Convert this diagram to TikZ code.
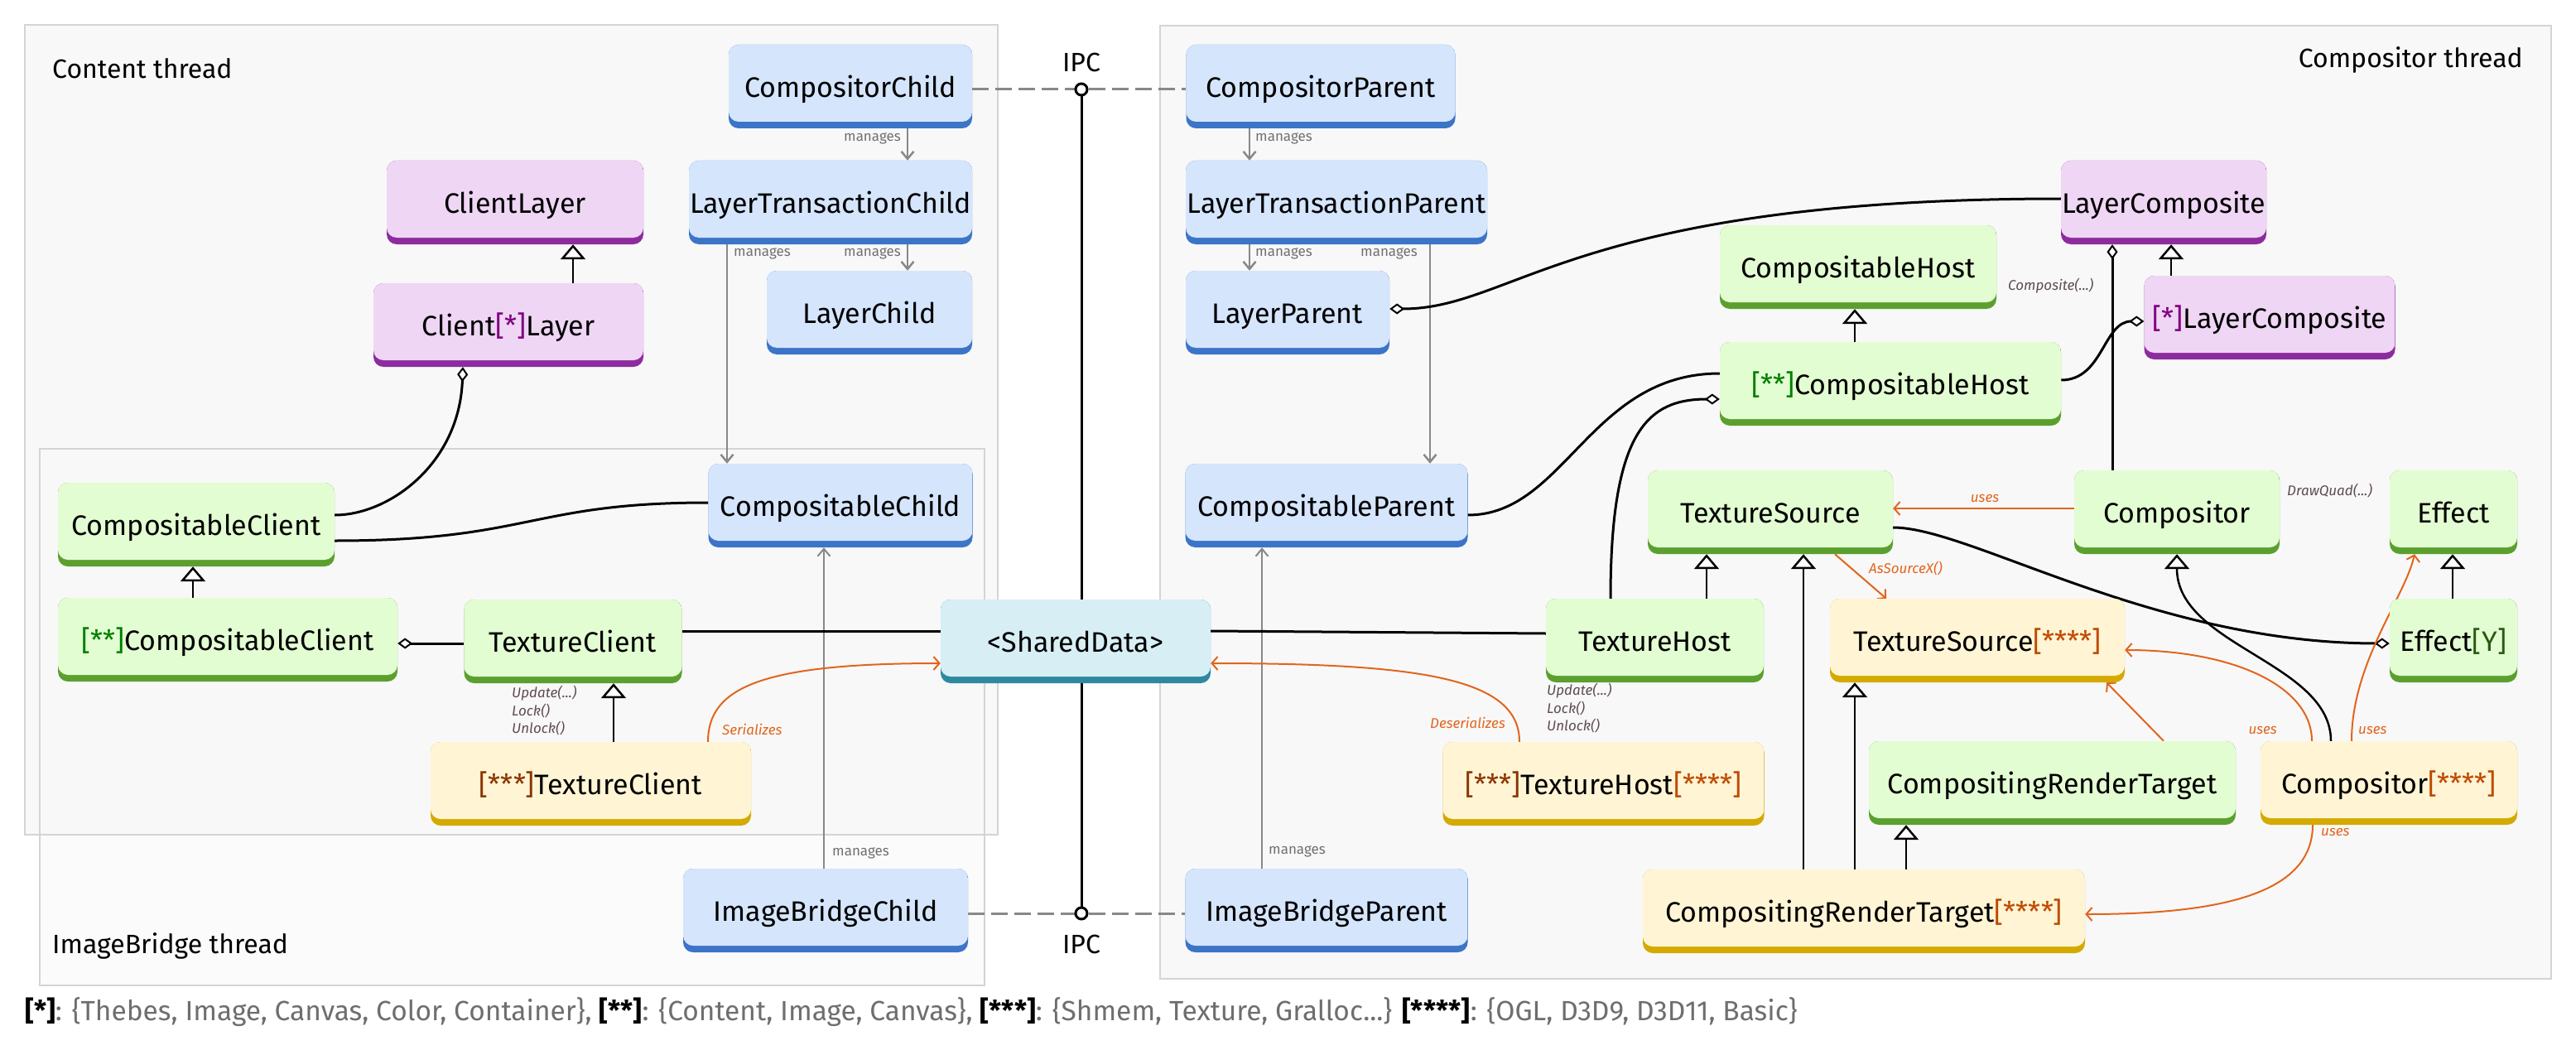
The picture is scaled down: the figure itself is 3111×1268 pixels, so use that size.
\documentclass[tikz,border=0pt]{standalone}
\usepackage{fontspec}
\setmainfont{Fira Sans}
\usetikzlibrary{arrows.meta,calc}
\definecolor{bluel}{HTML}{D5E5FC}\definecolor{blued}{HTML}{3C74C8}
\definecolor{purl}{HTML}{EFD6F4}\definecolor{purd}{HTML}{8D2C9E}
\definecolor{grnl}{HTML}{E3FDD3}\definecolor{grnd}{HTML}{5BA02F}
\definecolor{yell}{HTML}{FFF5D5}\definecolor{yeld}{HTML}{D4AA00}
\definecolor{cyal}{HTML}{D7EEF5}\definecolor{cyad}{HTML}{2E89A0}
\definecolor{framefill}{HTML}{F8F8F8}\definecolor{framefillb}{HTML}{FBFBFB}
\definecolor{frameline}{HTML}{D4D4D4}
\definecolor{mgray}{HTML}{888888}
\definecolor{mtext}{HTML}{707070}
\definecolor{orng}{HTML}{E2651C}
\definecolor{meth}{HTML}{5E4B56}
\definecolor{leggray}{HTML}{6E6E6E}
\definecolor{cstar}{HTML}{800080}
\definecolor{ctwostar}{HTML}{008000}
\definecolor{cthreestar}{HTML}{8B3500}
\definecolor{cfourstar}{HTML}{C04A00}
\definecolor{cyy}{HTML}{2A5A10}
\newcommand\mainsz{\fontsize{34}{40}\selectfont}
\newcommand\labsz{\fontsize{32}{38}\selectfont}
\newcommand\smallsz{\fontsize{17}{21.5}\selectfont}
\newcommand\legsz{\fontsize{33.5}{40}\selectfont}
\pgfdeclarelayer{bg}\pgfdeclarelayer{edges}\pgfsetlayers{bg,edges,main}
\tikzset{
  cls/.style 2 args={draw=none, fill=#2, rounded corners=12pt, minimum height=101pt,
    inner sep=0pt, text height=29pt, text depth=3pt, font=\mainsz,
    path picture={\fill[#1,rounded corners=12pt] (path picture bounding box.north west)
      rectangle ([yshift=8pt]path picture bounding box.south east);}},
  bluebox/.style={cls={bluel}{blued}},
  purbox/.style={cls={purl}{purd}},
  grnbox/.style={cls={grnl}{grnd}},
  yelbox/.style={cls={yell}{yeld}},
  cyabox/.style={cls={cyal}{cyad}},
  mgr/.style={draw=mgray, line width=2.5pt, -{Straight Barb[length=9pt,width=15pt]}},
  mgrthin/.style={mgr, line width=2pt},
  mlab/.style={font=\smallsz, text=mtext, inner sep=0pt},
  inh/.style={draw=black, line width=2.5pt, -{Triangle[length=18pt,width=30pt,fill=white]}},
  assoc/.style={draw=black, line width=3pt},
  aggs/.style={assoc, {Diamond[length=18pt,width=13pt,fill=white,line width=2pt]}-},
  agge/.style={assoc, -{Diamond[length=18pt,width=13pt,fill=white,line width=2pt]}},
  uses/.style={draw=orng, line width=2pt, -{Straight Barb[length=7pt,width=16pt]}},
  olab/.style={font=\smallsz\itshape, text=orng, inner sep=0pt},
  methlab/.style={font=\smallsz\itshape, text=meth, inner sep=0pt, align=left},
  framelab/.style={font=\labsz, inner sep=0pt},
  ipcdot/.style={circle, draw=black, line width=3pt, fill=white, minimum size=14pt, inner sep=0pt},
  ipcdash/.style={draw=mgray, line width=3pt, dash pattern=on 20pt off 8pt}
}
\begin{document}
\begin{tikzpicture}[x=1pt,y=-1pt]
\useasboundingbox (0,0) rectangle (3111,1268);
\begin{pgfonlayer}{bg}
  \fill[white] (0,0) rectangle (3111,1268);
  \fill[framefillb] (48,542) rectangle (1189,1190);
  \fill[framefill] (30,30) rectangle (1205,1008);
  \fill[framefill] (1401,31) rectangle (3081,1182);
  \draw[frameline, line width=2.5pt] (48,542) rectangle (1189,1190);
  \draw[frameline, line width=2.5pt] (30,30) rectangle (1205,1008);
  \draw[frameline, line width=2.5pt] (1401,31) rectangle (3081,1182);
\end{pgfonlayer}

\node[framelab, anchor=west] (lcontent) at (63,83) {Content thread};
\node[framelab, anchor=east] (lcomp) at (3047,72) {Compositor thread};
\node[framelab, anchor=west] (limg) at (63,1142) {ImageBridge thread};

% blue
\node[bluebox, minimum width=294pt] (cc) at (1027,104.5) {CompositorChild};
\node[bluebox, minimum width=342pt] (ltc) at (1003,244.5) {LayerTransactionChild};
\node[bluebox, minimum width=248pt] (lc) at (1050,377.5) {LayerChild};
\node[bluebox, minimum width=319pt] (cch) at (1015,610.5) {CompositableChild};
\node[bluebox, minimum width=344pt] (ibc) at (997,1099.5) {ImageBridgeChild};
\node[bluebox, minimum width=325pt] (cp) at (1595,104.5) {CompositorParent};
\node[bluebox, minimum width=364pt] (ltp) at (1614,244.5) {LayerTransactionParent};
\node[bluebox, minimum width=246pt] (lp) at (1555,377.5) {LayerParent};
\node[bluebox, minimum width=341pt] (cpa) at (1602,610.5) {CompositableParent};
\node[bluebox, minimum width=341pt] (ibp) at (1602,1099.5) {ImageBridgeParent};
% purple
\node[purbox, minimum width=310pt] (cl) at (622,244.5) {ClientLayer};
\node[purbox, minimum width=326pt] (csl) at (614,392.5) {Client{\color{cstar}[*]}Layer};
\node[purbox, minimum width=248pt] (lco) at (2613,244.5) {LayerComposite};
\node[purbox, minimum width=303pt] (slc) at (2741,383.5) {{\color{cstar}[*]}LayerComposite};
% green
\node[grnbox, minimum width=334pt] (ccl) at (237,633.5) {CompositableClient};
\node[grnbox, minimum width=410pt] (sccl) at (275,772.5) {{\color{ctwostar}[**]}CompositableClient};
\node[grnbox, minimum width=263pt] (tc) at (692,774.5) {TextureClient};
\node[grnbox, minimum width=334pt] (ch) at (2244,322.5) {CompositableHost};
\node[grnbox, minimum width=412pt] (sch) at (2283,463.5) {{\color{ctwostar}[**]}CompositableHost};
\node[grnbox, minimum width=296pt] (ts) at (2138,618.5) {TextureSource};
\node[grnbox, minimum width=248pt] (co) at (2629,618.5) {Compositor};
\node[grnbox, minimum width=154pt] (ef) at (2963,618.5) {Effect};
\node[grnbox, minimum width=263pt] (th) at (1998.5,773.5) {TextureHost};
\node[grnbox, minimum width=154pt] (efy) at (2963,773.5) {Effect{\color{cyy}[Y]}};
\node[grnbox, minimum width=443pt] (crt) at (2478.5,945.5) {CompositingRenderTarget};
% yellow
\node[yelbox, minimum width=387pt] (stc) at (713.5,946.5) {{\color{cthreestar}[***]}TextureClient};
\node[yelbox, minimum width=388pt] (sth) at (1936.5,946.5) {{\color{cthreestar}[***]}TextureHost{\color{cfourstar}[****]}};
\node[yelbox, minimum width=356pt] (ts4) at (2388,773.5) {TextureSource{\color{cfourstar}[****]}};
\node[yelbox, minimum width=310pt] (co4) at (2885,945.5) {Compositor{\color{cfourstar}[****]}};
\node[yelbox, minimum width=534pt] (crt4) at (2251,1100.5) {CompositingRenderTarget{\color{cfourstar}[****]}};
% cyan
\node[cyabox, minimum width=326pt] (sd) at (1299,774.5) {<SharedData>};

% IPC
\node[ipcdot] (ipc1) at (1306,108) {};
\node[ipcdot] (ipc2) at (1306,1103) {};
\node[framelab] (ipct) at (1306,75) {IPC};
\node[framelab] (ipcb) at (1306,1140) {IPC};

% labels
\node[mlab, anchor=east] (m1) at (1088,167) {manages};
\node[mlab, anchor=east] (m2) at (1088,306) {manages};
\node[mlab, anchor=west] (m3) at (886,306) {manages};
\node[mlab, anchor=west] (m4) at (1516,167) {manages};
\node[mlab, anchor=west] (m5) at (1516,306) {manages};
\node[mlab, anchor=east] (m6) at (1712,306) {manages};
\node[mlab, anchor=west] (m7) at (1005,1030) {manages};
\node[mlab, anchor=west] (m8) at (1532,1028) {manages};

\node[olab, anchor=west] (oser) at (872,881) {Serializes};
\node[olab, anchor=east] (odes) at (1818,873) {Deserializes};
\node[olab] (ouse1) at (2397,602) {uses};
\node[olab, anchor=west] (oasx) at (2257,687) {AsSourceX()};
\node[olab, anchor=east] (ouse2) at (2750,882) {uses};
\node[olab, anchor=west] (ouse3) at (2848,882) {uses};
\node[olab, anchor=west] (ouse4) at (2803,1005) {uses};

\node[methlab, anchor=north west] (tcm) at (618,828) {Update(...)\\Lock()\\Unlock()};
\node[methlab, anchor=north west] (thm) at (1868,825) {Update(...)\\Lock()\\Unlock()};
\node[methlab, anchor=west] (compm) at (2425,345) {Composite(...)};
\node[methlab, anchor=west] (drawm) at (2762,593) {DrawQuad(...)};

\node[anchor=west, font=\legsz, text=leggray, inner sep=0pt] (legend) at (30,1222)
  {\textbf{\color{black}[*]}: \{Thebes, Image, Canvas, Color, Container\}, \textbf{\color{black}[**]}: \{Content, Image, Canvas\}, \textbf{\color{black}[***]}: \{Shmem, Texture, Gralloc...\} \textbf{\color{black}[****]}: \{OGL, D3D9, D3D11, Basic\}};

\begin{pgfonlayer}{edges}
  % IPC
  \draw[line width=3pt] (ipc1.south) -- (ipc2.north);
  \draw[ipcdash] (cc.east |- ipc1.center) -- (ipc1.west);
  \draw[ipcdash] (ipc1.east) -- (cp.west |- ipc1.center);
  \draw[ipcdash] (ibc.east |- ipc2.center) -- (ipc2.west);
  \draw[ipcdash] (ipc2.east) -- (ibp.west |- ipc2.center);
  % manages
  \draw[mgr] (1096,0 |- cc.south) -- (1096,0 |- ltc.north);
  \draw[mgr] (1096,0 |- ltc.south) -- (1096,0 |- lc.north);
  \draw[mgr] (878,0 |- ltc.south) -- (878,0 |- cch.north);
  \draw[mgr] (1509,0 |- cp.south) -- (1509,0 |- ltp.north);
  \draw[mgr] (1509,0 |- ltp.south) -- (1509,0 |- lp.north);
  \draw[mgr] (1727,0 |- ltp.south) -- (1727,0 |- cpa.north);
  \draw[mgrthin] (995,0 |- ibc.north) -- (995,0 |- cch.south);
  \draw[mgrthin] (1524,0 |- ibp.north) -- (1524,0 |- cpa.south);
  % inheritance
  \draw[inh] (692,0 |- csl.north) -- (692,0 |- cl.south);
  \draw[inh] (233,0 |- sccl.north) -- (233,0 |- ccl.south);
  \draw[inh] (741,0 |- stc.north) -- (741,0 |- tc.south);
  \draw[inh] (2240,0 |- sch.north) -- (2240,0 |- ch.south);
  \draw[inh] (2622,0 |- slc.north) -- (2622,0 |- lco.south);
  \draw[inh] (2061,0 |- th.north) -- (2061,0 |- ts.south);
  \draw[inh] (2178,0 |- crt4.north) -- (2178,0 |- ts.south);
  \draw[inh] (2240,0 |- crt4.north) -- (2240,0 |- ts4.south);
  \draw[inh] (2302,0 |- crt4.north) -- (2302,0 |- crt.south);
  \draw[inh] (2962,0 |- efy.north) -- (2962,0 |- ef.south);
  \draw[inh] (2815,0 |- co4.north) .. controls (2815,800) and (2629,780) .. (2629,0 |- co.south);
  % associations / aggregations
  \draw[aggs] (559,0 |- csl.south) .. controls (555,560) and (470,622) .. (ccl.east |- 0,622);
  \draw[assoc] (ccl.east |- 0,653) .. controls (640,653) and (640,607) .. (cch.west |- 0,607);
  \draw[aggs] (sccl.east |- 0,777) -- (tc.west |- 0,777);
  \draw[assoc] (tc.east |- 0,762) -- (sd.west |- 0,762);
  \draw[assoc] (sd.east |- 0,762) -- (th.west |- 0,765);
  \draw[aggs] (lp.east |- 0,373) .. controls (1830,373) and (1900,240) .. (lco.west |- 0,240);
  \draw[assoc] (cpa.east |- 0,622) .. controls (1890,622) and (1920,451) .. (sch.west |- 0,451);
  \draw[aggs] (sch.west |- 0,482) .. controls (1990,482) and (1945,520) .. (1945,0 |- th.north);
  \draw[agge] (sch.east |- 0,459) .. controls (2540,459) and (2540,388) .. (slc.west |- 0,388);
  \draw[aggs] (2551,0 |- lco.south) -- (2551,0 |- co.north);
  \draw[agge] (ts.east |- 0,637) .. controls (2380,637) and (2600,777) .. (efy.west |- 0,777);
  % uses (orange)
  \draw[uses] (855,0 |- stc.north) .. controls (855,830) and (920,801) .. (sd.west |- 0,801);
  \draw[uses] (1835,0 |- sth.north) .. controls (1835,820) and (1720,801) .. (sd.east |- 0,801);
  \draw[uses] (co.west |- 0,614) -- (ts.east |- 0,614);
  \draw[uses] (2216,0 |- ts.south) -- (2278,0 |- ts4.north);
  \draw[uses] (2613,0 |- crt.north) -- (2544,0 |- ts4.south);
  \draw[uses] (2792,0 |- co4.north) .. controls (2792,830) and (2700,785) .. (ts4.east |- 0,785);
  \draw[uses] (2840,0 |- co4.north) .. controls (2840,800) and (2905,720) .. (2916,0 |- ef.south);
  \draw[uses] (2793,0 |- co4.south) .. controls (2793,1080) and (2680,1104) .. (crt4.east |- 0,1104);
\end{pgfonlayer}
\end{tikzpicture}
\end{document}
